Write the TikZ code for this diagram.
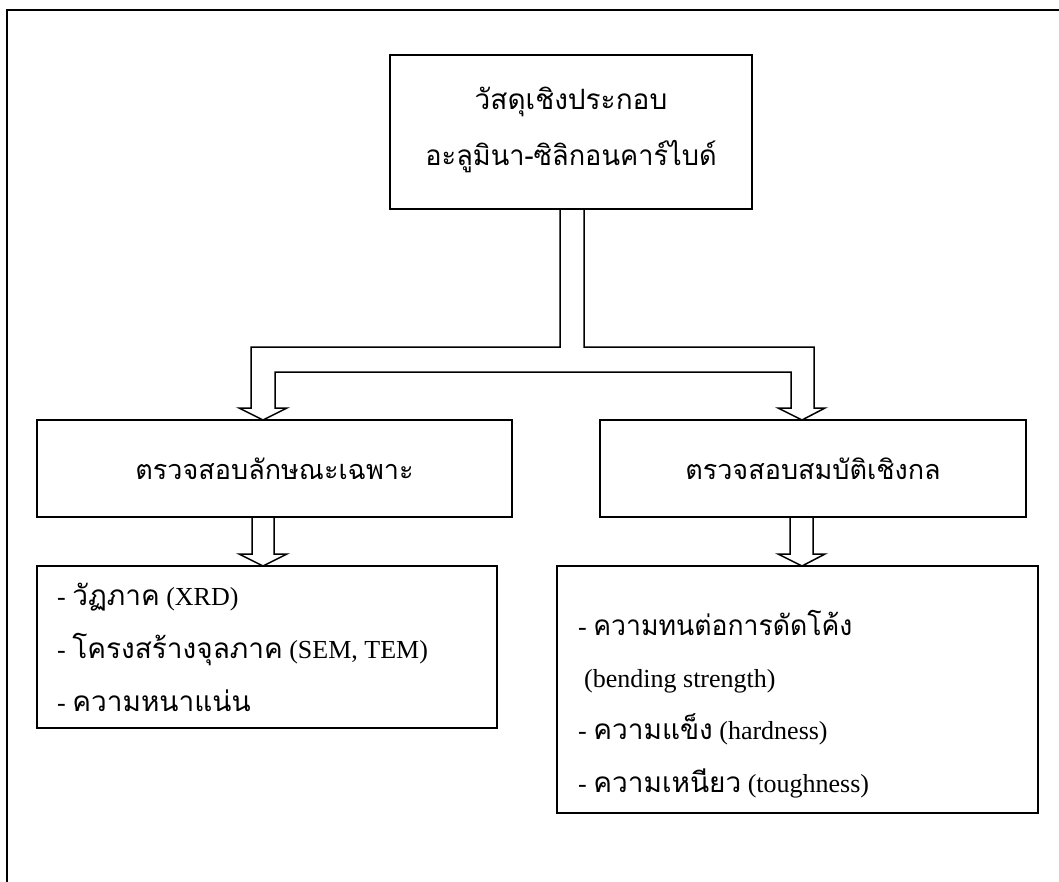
\documentclass[tikz,border=0pt]{standalone}
\usepackage{fontspec}
\setmainfont{Liberation Serif}
\newfontfamily\thaifont[Script=Thai]{Loma}
\usetikzlibrary{calc}
\newcommand\thx[1]{{\thaifont\fontsize{28}{32}\selectfont #1}}
\newcommand\thm[1]{{\thaifont\fontsize{27}{32}\selectfont #1}}
\begin{document}
\begin{tikzpicture}[x=1pt,y=-1pt,
  box/.style={draw,line width=2pt,rectangle,inner sep=0pt,outer sep=0pt},
  blockarrow/.style={draw,line width=1.5pt,line join=miter},
  txt/.style={font=\fontsize{26}{30}\selectfont,inner sep=0pt},
  frame/.style={draw,line width=2pt}]
\useasboundingbox (0,0) rectangle (1059,881);
\clip (0,0) rectangle (1059,881);
\draw[frame] (7,900) -- (7,10) -- (1080,10);

% boxes
\node[box,minimum width=362pt,minimum height=154pt] (top) at (571,132) {};
\node[txt,anchor=base] (t1) at (571,109) {\thx{วัสดุเชิงประกอบ}};
\node[txt,anchor=base] (t2) at (571,165) {\thx{\scalebox{0.97}[1]{อะลูมินา-ซิลิกอนคาร์ไบด์}}};

\node[box,txt,minimum width=475pt,minimum height=97pt] (ml) at (274.5,468.5) {\thm{ตรวจสอบลักษณะเฉพาะ}};
\node[box,txt,minimum width=426pt,minimum height=97pt] (mr) at (813,468.5) {\thm{ตรวจสอบสมบัติเชิงกล}};

\node[box,minimum width=460pt,minimum height=162pt] (bl) at (267,647) {};
\node[box,minimum width=481pt,minimum height=247pt] (br) at (797.5,689.5) {};

\node[txt,anchor=base west] (l1) at (57,605) {- \thx{วัฏภาค} (XRD)};
\node[txt,anchor=base west] (l2) at (57,658) {- \thx{โครงสร้างจุลภาค} (SEM, TEM)};
\node[txt,anchor=base west] (l3) at (57,711) {- \thx{ความหนาแน่น}};

\node[txt,anchor=base west] (r1) at (578,635) {- \thx{\scalebox{0.95}[1]{ความทนต่อการดัดโค้ง}}};
\node[txt,anchor=base west] (r2) at (584,687) {(bending strength)};
\node[txt,anchor=base west] (r3) at (578,739) {- \thx{ความแข็ง} (hardness)};
\node[txt,anchor=base west] (r4) at (578,792) {- \thx{ความเหนียว} (toughness)};

% split block arrow
\draw[blockarrow] ($(top.south west)+(170,0)$) -- (560,347) -- (251,347) -- (251,408) -- (239,408)
  -- ($(ml.north west)+(226,0)$) -- (287,408) -- (275,408) -- (275,372) -- (791,372) -- (791,408)
  -- (778,408) -- ($(mr.north west)+(202,0)$) -- (825,408) -- (814,408) -- (814,347) -- (584,347)
  -- ($(top.south west)+(194,0)$);

% lower block arrows
\draw[blockarrow] ($(ml.south west)+(215,0)$) -- (252,554) -- (239,554) -- ($(bl.north west)+(226,0)$)
  -- (287,554) -- (274,554) -- ($(ml.south west)+(237,0)$);
\draw[blockarrow] ($(mr.south west)+(190,0)$) -- (790,554) -- (778,554) -- ($(br.north west)+(245,0)$)
  -- (825,554) -- (813,554) -- ($(mr.south west)+(213,0)$);
\end{tikzpicture}
\end{document}
